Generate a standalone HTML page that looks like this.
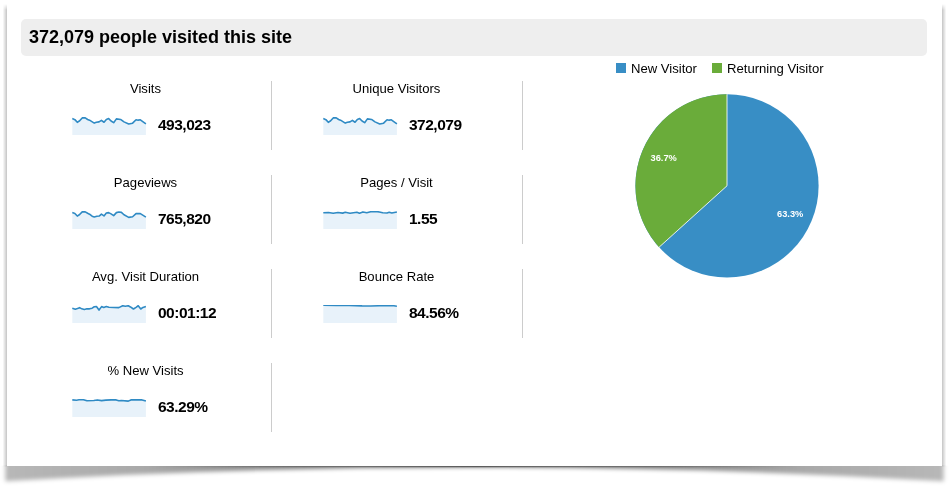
<!DOCTYPE html>
<html>
<head>
<meta charset="utf-8">
<title>Visitors Overview</title>
<style>
html,body{margin:0;padding:0;background:#fff;}
body{width:952px;height:493px;position:relative;overflow:hidden;font-family:"Liberation Sans",Arial,sans-serif;color:#000;}
#shadow{position:absolute;left:0;top:0;width:952px;height:493px;}
#paper{position:absolute;left:7px;top:0;width:935px;height:465.7px;background:#fff;}
#hdr{position:absolute;left:21px;top:19px;width:906px;height:37px;background:#eee;border-radius:5px;}
#hdr h1{margin:0;position:absolute;left:8px;top:7px;font-size:18px;line-height:22px;font-weight:bold;white-space:nowrap;}
.cell{position:absolute;width:251px;height:69px;border-right:1px solid #ccc;box-sizing:content-box;}
.lbl{position:absolute;left:0;width:251px;top:0;text-align:center;font-size:13.1px;line-height:16px;color:#000;white-space:nowrap;}
.val{position:absolute;left:138px;top:35px;font-size:15.5px;letter-spacing:-0.5px;line-height:18px;font-weight:bold;white-space:nowrap;}
.spark{position:absolute;left:52px;top:36px;width:75px;height:18px;overflow:hidden;}
.lg{position:absolute;top:61px;font-size:13.1px;line-height:16px;white-space:nowrap;color:#000;}
.sq{position:absolute;top:63px;width:10px;height:10px;}
#pie{position:absolute;left:625px;top:85px;width:205px;height:205px;}
</style>
</head>
<body>
<svg id="shadow" width="952" height="493" viewBox="0 0 952 493">
  <defs>
    <filter id="b1" x="-5%" y="-60%" width="110%" height="220%"><feGaussianBlur stdDeviation="2"/></filter>
    <filter id="b3" x="-5%" y="-300%" width="110%" height="700%"><feGaussianBlur stdDeviation="0.7"/></filter>
    <linearGradient id="sg" x1="0" y1="0" x2="1" y2="0">
      <stop offset="0" stop-color="#000" stop-opacity="0.28"/>
      <stop offset="0.15" stop-color="#000" stop-opacity="0.34"/>
      <stop offset="0.3" stop-color="#000" stop-opacity="0.5"/>
      <stop offset="0.5" stop-color="#000" stop-opacity="0.6"/>
      <stop offset="0.7" stop-color="#000" stop-opacity="0.5"/>
      <stop offset="0.85" stop-color="#000" stop-opacity="0.34"/>
      <stop offset="1" stop-color="#000" stop-opacity="0.28"/>
    </linearGradient>
    <linearGradient id="cg" x1="0" y1="0" x2="1" y2="0">
      <stop offset="0" stop-color="#000" stop-opacity="0"/>
      <stop offset="0.5" stop-color="#000" stop-opacity="0.45"/>
      <stop offset="1" stop-color="#000" stop-opacity="0"/>
    </linearGradient>
    <linearGradient id="lg" x1="0" y1="0" x2="1" y2="0">
      <stop offset="0" stop-color="#000" stop-opacity="0"/>
      <stop offset="1" stop-color="#000" stop-opacity="0.23"/>
    </linearGradient>
    <linearGradient id="rg" x1="0" y1="0" x2="1" y2="0">
      <stop offset="0" stop-color="#000" stop-opacity="0.23"/>
      <stop offset="1" stop-color="#000" stop-opacity="0"/>
    </linearGradient>
    <linearGradient id="tg" gradientUnits="userSpaceOnUse" x1="0" y1="4" x2="0" y2="484">
      <stop offset="0" stop-color="#fff" stop-opacity="0"/>
      <stop offset="0.0125" stop-color="#fff" stop-opacity="1"/>
      <stop offset="1" stop-color="#fff" stop-opacity="1"/>
    </linearGradient>
  </defs>
  <mask id="vm" maskUnits="userSpaceOnUse" x="0" y="0" width="952" height="493"><rect x="0" y="4" width="952" height="480" fill="url(#tg)"/></mask>
  <g mask="url(#vm)">
    <rect x="2.7" y="4" width="4.3" height="462.2" fill="url(#lg)"/>
    <rect x="942" y="4" width="4.3" height="462.2" fill="url(#rg)"/>
  </g>
  <clipPath id="cp"><rect x="0" y="465.7" width="952" height="28"/></clipPath>
  <g clip-path="url(#cp)"><path d="M5.3 455 L943.7 455 L943.7 481.3 Q475 452.7 5.3 481.3 Z" fill="url(#sg)" filter="url(#b1)"/></g>
  <path d="M150 462 L802 462 L802 467.3 L150 467.3 Z" fill="url(#cg)" filter="url(#b3)"/>
</svg>
<div id="paper"></div>
<div id="hdr"><h1>372,079 people visited this site</h1></div>

<div class="cell" style="left:20px;top:81px"><div class="lbl">Visits</div>
<svg class="spark" width="75" height="18" viewBox="0 0 75 18"><path d="M0.3 1.61 L2.89 2.65 L5.3 5.32 L7.63 3.77 L10.21 0.92 L13.23 0.92 L15.64 2.47 L17.53 3.16 L22.27 6.09 L24.42 5.32 L27.01 4.89 L29.42 3.34 L32 5.23 L34.33 2.47 L36.65 1.61 L39.07 4.02 L41.65 5.66 L44.41 1.87 L48.54 2.47 L51.99 4.89 L56.72 6.95 L60.6 6.18 L64.04 2.73 L66.2 3.16 L68.35 2.82 L73.9 6.78 L73.9 18 L0.3 18 Z" fill="#e8f2fa"/><path d="M0.3 1.61 L2.89 2.65 L5.3 5.32 L7.63 3.77 L10.21 0.92 L13.23 0.92 L15.64 2.47 L17.53 3.16 L22.27 6.09 L24.42 5.32 L27.01 4.89 L29.42 3.34 L32 5.23 L34.33 2.47 L36.65 1.61 L39.07 4.02 L41.65 5.66 L44.41 1.87 L48.54 2.47 L51.99 4.89 L56.72 6.95 L60.6 6.18 L64.04 2.73 L66.2 3.16 L68.35 2.82 L73.9 6.78" fill="none" stroke="#2f8ac4" stroke-width="1.6" stroke-linejoin="round" stroke-linecap="butt"/></svg>
<div class="val">493,023</div></div>

<div class="cell" style="left:271px;top:81px"><div class="lbl">Unique Visitors</div>
<svg class="spark" width="75" height="18" viewBox="0 0 75 18"><path d="M0.3 1.61 L2.89 2.65 L5.3 5.32 L7.63 3.77 L10.21 0.92 L13.23 0.92 L15.64 2.47 L17.53 3.16 L22.27 6.09 L24.42 5.32 L27.01 4.89 L29.42 3.34 L32 5.23 L34.33 2.47 L36.65 1.61 L39.07 4.02 L41.65 5.66 L44.41 1.87 L48.54 2.47 L51.99 4.89 L56.72 6.95 L60.6 6.18 L64.04 2.73 L66.2 3.16 L68.35 2.82 L73.9 6.78 L73.9 18 L0.3 18 Z" fill="#e8f2fa"/><path d="M0.3 1.61 L2.89 2.65 L5.3 5.32 L7.63 3.77 L10.21 0.92 L13.23 0.92 L15.64 2.47 L17.53 3.16 L22.27 6.09 L24.42 5.32 L27.01 4.89 L29.42 3.34 L32 5.23 L34.33 2.47 L36.65 1.61 L39.07 4.02 L41.65 5.66 L44.41 1.87 L48.54 2.47 L51.99 4.89 L56.72 6.95 L60.6 6.18 L64.04 2.73 L66.2 3.16 L68.35 2.82 L73.9 6.78" fill="none" stroke="#2f8ac4" stroke-width="1.6" stroke-linejoin="round" stroke-linecap="butt"/></svg>
<div class="val">372,079</div></div>

<div class="cell" style="left:20px;top:175px"><div class="lbl">Pageviews</div>
<svg class="spark" width="75" height="18" viewBox="0 0 75 18"><path d="M0.3 1.61 L2.89 2.47 L5.3 5.06 L7.63 3.51 L10.21 0.92 L13.23 0.92 L15.64 2.3 L17.53 3.16 L20.12 5.23 L22.27 5.92 L24.85 5.23 L27.18 5.06 L29.42 3.16 L32 4.89 L34.33 2.04 L36.65 1.61 L39.07 2.91 L41.65 4.63 L44.41 1.61 L46.82 1.01 L49.4 1.35 L51.99 3.77 L56.72 6.35 L60.6 5.75 L64.04 2.65 L68.35 2.65 L73.9 6.09 L73.9 18 L0.3 18 Z" fill="#e8f2fa"/><path d="M0.3 1.61 L2.89 2.47 L5.3 5.06 L7.63 3.51 L10.21 0.92 L13.23 0.92 L15.64 2.3 L17.53 3.16 L20.12 5.23 L22.27 5.92 L24.85 5.23 L27.18 5.06 L29.42 3.16 L32 4.89 L34.33 2.04 L36.65 1.61 L39.07 2.91 L41.65 4.63 L44.41 1.61 L46.82 1.01 L49.4 1.35 L51.99 3.77 L56.72 6.35 L60.6 5.75 L64.04 2.65 L68.35 2.65 L73.9 6.09" fill="none" stroke="#2f8ac4" stroke-width="1.6" stroke-linejoin="round" stroke-linecap="butt"/></svg>
<div class="val">765,820</div></div>

<div class="cell" style="left:271px;top:175px"><div class="lbl">Pages / Visit</div>
<svg class="spark" width="75" height="18" viewBox="0 0 75 18"><path d="M0.3 1.79 L5.47 1.44 L10.21 2.3 L14.95 1.44 L19.69 2.13 L22.27 1.27 L27.01 2.3 L33.9 1.18 L36.48 2.13 L39.93 0.92 L43.8 1.79 L47.68 0.75 L51.99 0.41 L56.29 0.92 L59.74 1.79 L64.04 1.96 L66.2 1.27 L68.78 1.96 L73.9 0.92 L73.9 18 L0.3 18 Z" fill="#e8f2fa"/><path d="M0.3 1.79 L5.47 1.44 L10.21 2.3 L14.95 1.44 L19.69 2.13 L22.27 1.27 L27.01 2.3 L33.9 1.18 L36.48 2.13 L39.93 0.92 L43.8 1.79 L47.68 0.75 L51.99 0.41 L56.29 0.92 L59.74 1.79 L64.04 1.96 L66.2 1.27 L68.78 1.96 L73.9 0.92" fill="none" stroke="#2f8ac4" stroke-width="1.6" stroke-linejoin="round" stroke-linecap="butt"/></svg>
<div class="val">1.55</div></div>

<div class="cell" style="left:20px;top:269px"><div class="lbl">Avg. Visit Duration</div>
<svg class="spark" width="75" height="18" viewBox="0 0 75 18"><path d="M0.3 3.16 L3.32 4.2 L5.47 3.51 L7.63 2.65 L9.78 3.85 L12.37 4.54 L14.95 3.85 L17.53 3.85 L20.12 3.16 L22.27 1.79 L24.42 1.44 L27.01 5.06 L29.59 1.61 L31.75 2.47 L34.33 1.44 L36.91 2.3 L41.65 2.47 L46.82 2.65 L50.69 0.75 L53.28 1.27 L56.29 0.75 L58.45 1.96 L61.46 4.02 L64.04 2.3 L66.2 0.75 L68.78 4.02 L70.94 2.47 L73.9 1.44 L73.9 18 L0.3 18 Z" fill="#e8f2fa"/><path d="M0.3 3.16 L3.32 4.2 L5.47 3.51 L7.63 2.65 L9.78 3.85 L12.37 4.54 L14.95 3.85 L17.53 3.85 L20.12 3.16 L22.27 1.79 L24.42 1.44 L27.01 5.06 L29.59 1.61 L31.75 2.47 L34.33 1.44 L36.91 2.3 L41.65 2.47 L46.82 2.65 L50.69 0.75 L53.28 1.27 L56.29 0.75 L58.45 1.96 L61.46 4.02 L64.04 2.3 L66.2 0.75 L68.78 4.02 L70.94 2.47 L73.9 1.44" fill="none" stroke="#2f8ac4" stroke-width="1.6" stroke-linejoin="round" stroke-linecap="butt"/></svg>
<div class="val">00:01:12</div></div>

<div class="cell" style="left:271px;top:269px"><div class="lbl">Bounce Rate</div>
<svg class="spark" width="75" height="18" viewBox="0 0 75 18"><path d="M0.3 0.24 L13.23 0.41 L26.15 0.41 L39.07 0.92 L47.68 1.01 L56.29 0.75 L69.21 0.58 L73.9 1.18 L73.9 18 L0.3 18 Z" fill="#e8f2fa"/><path d="M0.3 0.24 L13.23 0.41 L26.15 0.41 L39.07 0.92 L47.68 1.01 L56.29 0.75 L69.21 0.58 L73.9 1.18" fill="none" stroke="#2f8ac4" stroke-width="1.6" stroke-linejoin="round" stroke-linecap="butt"/></svg>
<div class="val">84.56%</div></div>

<div class="cell" style="left:20px;top:363px"><div class="lbl">% New Visits</div>
<svg class="spark" width="75" height="18" viewBox="0 0 75 18"><path d="M0.3 0.92 L4.61 1.27 L8.06 0.58 L11.5 0.75 L14.95 1.79 L21.84 1.44 L25.29 0.92 L29.59 1.61 L33.9 1.1 L39.07 0.92 L44.23 0.92 L46.82 1.79 L49.4 1.44 L56.29 2.13 L58.88 0.92 L64.91 0.92 L69.21 0.75 L73.9 1.96 L73.9 18 L0.3 18 Z" fill="#e8f2fa"/><path d="M0.3 0.92 L4.61 1.27 L8.06 0.58 L11.5 0.75 L14.95 1.79 L21.84 1.44 L25.29 0.92 L29.59 1.61 L33.9 1.1 L39.07 0.92 L44.23 0.92 L46.82 1.79 L49.4 1.44 L56.29 2.13 L58.88 0.92 L64.91 0.92 L69.21 0.75 L73.9 1.96" fill="none" stroke="#2f8ac4" stroke-width="1.6" stroke-linejoin="round" stroke-linecap="butt"/></svg>
<div class="val">63.29%</div></div>

<div class="sq" style="left:616px;background:#388ec5"></div>
<div class="lg" style="left:631px">New Visitor</div>
<div class="sq" style="left:712px;background:#6aac3a"></div>
<div class="lg" style="left:727px">Returning Visitor</div>

<svg id="pie" viewBox="0 0 205 205">
  <circle cx="102" cy="100.8" r="91.6" fill="#388ec5"/>
  <path d="M102 100.8 L102 9.2 A91.6 91.6 0 0 0 34.1 162.2 Z" fill="#6aac3a"/>
  <path d="M102 9.2 L102 100.8 L34.1 162.2" fill="none" stroke="#fff" stroke-opacity="0.85" stroke-width="1" stroke-linejoin="miter"/>
  <text x="25.5" y="76" textLength="26.3" lengthAdjust="spacingAndGlyphs" font-family="Liberation Sans, Arial, sans-serif" font-size="9.7" font-weight="bold" fill="#fff">36.7%</text>
  <text x="152" y="132" textLength="26.3" lengthAdjust="spacingAndGlyphs" font-family="Liberation Sans, Arial, sans-serif" font-size="9.7" font-weight="bold" fill="#fff">63.3%</text>
</svg>
</body>
</html>
